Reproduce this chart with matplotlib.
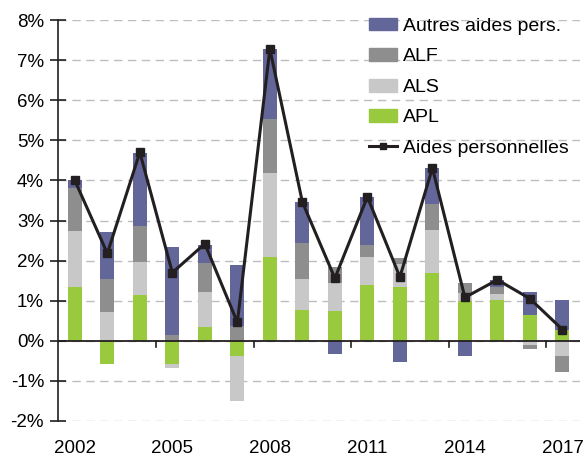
import matplotlib.pyplot as plt
import numpy as np
from matplotlib.patches import Patch
from matplotlib.lines import Line2D

plt.rcParams['font.family'] = ['Liberation Sans', 'DejaVu Sans']

## données (en %)
years = np.arange(2002, 2018)
apl = [1.35, -0.59, 1.15, -0.57, 0.35, -0.37, 2.09, 0.77, 0.75, 1.38, 1.33, 1.68, 0.98, 1.02, 0.63, 0.27]
als = [1.39, 0.72, 0.82, -0.10, 0.87, -1.13, 2.10, 0.78, 0.68, 0.71, 0.59, 1.09, 0.22, 0.15, -0.10, -0.37]
alf = [1.08, 0.83, 0.90, 0.15, 0.73, 0.37, 1.35, 0.88, 0.42, 0.30, 0.15, 0.65, 0.25, 0.18, -0.10, -0.40]
autres = [0.18, 1.17, 1.82, 2.19, 0.44, 1.52, 1.74, 1.04, -0.32, 1.20, -0.52, 0.89, -0.37, 0.17, 0.59, 0.75]
aides_perso = [4.0, 2.18, 4.7, 1.70, 2.42, 0.46, 7.28, 3.46, 1.56, 3.59, 1.59, 4.31, 1.08, 1.52, 1.05, 0.28]

series = [("APL", apl, "#99c93c"),
          ("ALS", als, "#c8c8c8"),
          ("ALF", alf, "#8e8e8e"),
          ("Autres aides pers.", autres, "#636699")]

fig = plt.figure(figsize=(5.85, 4.57), dpi=100)
ax = fig.add_axes([0.099, 0.079, 0.893, 0.877])

## barres empilées (positif vers le haut, négatif vers le bas)
pos_base = np.zeros(len(years))
neg_base = np.zeros(len(years))
for name, vals, color in series:
    vals = np.array(vals)
    base = np.where(vals >= 0, pos_base, neg_base)
    ax.bar(years, vals, bottom=base, width=0.43, color=color, zorder=2)
    pos_base += np.where(vals >= 0, vals, 0)
    neg_base += np.where(vals < 0, vals, 0)

ax.axhline(0, color="#231f20", lw=1.3, zorder=3)
for x in np.arange(2004.5, 2017, 3):
    ax.plot([x, x], [0, -0.15], color="#231f20", lw=1.2, zorder=3)

ax.plot(years, aides_perso, color="#231f20", lw=2.2, marker="s", markersize=6, zorder=4)

## axes
ax.set_xlim(2001.48, 2017.55)
ax.set_ylim(-2, 8)
ax.set_yticks(np.arange(-2, 9))
ax.set_yticklabels([f"{v}%" for v in range(-2, 9)], fontsize=13.5)
ax.set_xticks(np.arange(2002, 2018, 3))
ax.set_xticklabels([str(y) for y in range(2002, 2018, 3)], fontsize=13.5)
ax.tick_params(axis="x", length=0, pad=14)
ax.tick_params(axis="y", direction="inout", length=12, width=1.2, color="#231f20", pad=4)
for s in ["top", "right", "bottom"]:
    ax.spines[s].set_visible(False)
ax.spines["left"].set_color("#231f20")
ax.spines["left"].set_linewidth(1.2)
ax.yaxis.grid(True, linestyle=(0, (6, 4)), color="#bdbdbd", lw=1, zorder=0)
ax.set_axisbelow(True)

## légende
handles = [Patch(color="#636699"), Patch(color="#8e8e8e"), Patch(color="#c8c8c8"), Patch(color="#99c93c"),
           Line2D([], [], color="#231f20", lw=2.2, marker="s", markersize=5)]
labels = ["Autres aides pers.", "ALF", "ALS", "APL", "Aides personnelles"]
fig.legend(handles, labels, loc="upper left", bbox_to_anchor=(0.6, 1.0), frameon=False,
           fontsize=14, handlelength=1.45, handleheight=0.65, handletextpad=0.3, labelspacing=0.68)

fig.savefig("out.png", dpi=100)
